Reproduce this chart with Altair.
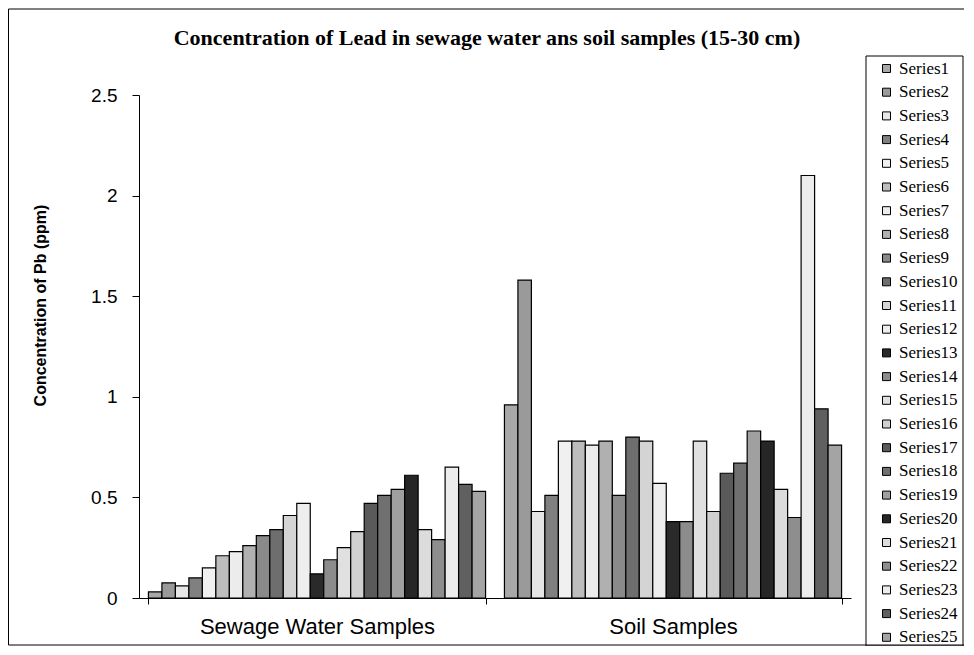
import altair as alt
import pandas as pd

groups = ["Sewage Water Samples", "Soil Samples"]
series = [f"Series{i}" for i in range(1, 26)]

sewage = [0.03, 0.075, 0.06, 0.10, 0.15, 0.21, 0.23, 0.26, 0.31, 0.34, 0.41, 0.47,
          0.12, 0.19, 0.25, 0.33, 0.47, 0.51, 0.54, 0.61, 0.34, 0.29, 0.65, 0.565, 0.53]
soil = [0.96, 1.58, 0.43, 0.51, 0.78, 0.78, 0.76, 0.78, 0.51, 0.80, 0.78, 0.57,
        0.38, 0.38, 0.78, 0.43, 0.62, 0.67, 0.83, 0.78, 0.54, 0.40, 2.10, 0.94, 0.76]

fills = ["#a8a8a8", "#9a9a9a", "#e6e6e6", "#808080", "#f0f0f0", "#bdbdbd", "#ececec",
         "#b0b0b0", "#8a8a8a", "#6e6e6e", "#d4d4d4", "#eeeeee", "#2a2a2a", "#8c8c8c",
         "#e0e0e0", "#d0d0d0", "#5a5a5a", "#707070", "#a0a0a0", "#262626", "#dcdcdc",
         "#8e8e8e", "#ececec", "#606060", "#a4a4a4"]

rows = []
for g, vals in zip(groups, [sewage, soil]):
    for s, v in zip(series, vals):
        rows.append({"group": g, "series": s, "value": v})
df = pd.DataFrame(rows)

W, H = 712, 503
PAD = {"left": 131, "top": 87, "right": 113, "bottom": 48}

bars = alt.Chart(df).mark_bar(stroke="black", strokeWidth=1.2).encode(
    x=alt.X("group:N", sort=groups,
            scale=alt.Scale(paddingInner=0.053, paddingOuter=0.0265),
            axis=alt.Axis(title=None, labelAngle=0, labelFont="Liberation Sans",
                          labelFontSize=22, labelColor="black", tickBand="extent",
                          tickSize=6, tickColor="black", domainColor="black",
                          labelPadding=12, labelLimit=500)),
    xOffset=alt.XOffset("series:N", sort=series),
    y=alt.Y("value:Q", scale=alt.Scale(domain=[0, 2.5]),
            axis=alt.Axis(title="Concentration of Pb (ppm)", values=[0, 0.5, 1, 1.5, 2, 2.5],
                          format=".1~f", grid=False, labelFont="Liberation Sans",
                          labelFontSize=19, labelColor="black", labelPadding=15,
                          tickSize=7, tickColor="black", domainColor="black",
                          titleFont="Liberation Sans", titleFontSize=16,
                          titleFontWeight="bold", titleColor="black",
                          titleX=-99, titleY=210, titleAngle=270,
                          titleBaseline="middle", titleAlign="center")),
    color=alt.Color("series:N", sort=series,
                    scale=alt.Scale(domain=series, range=fills),
                    legend=alt.Legend(title=None, orient="none", legendX=739, legendY=-35,
                                      symbolType="square", symbolSize=64,
                                      symbolStrokeColor="black", symbolStrokeWidth=1,
                                      labelFont="Liberation Serif", labelFontSize=17,
                                      labelColor="black", labelOffset=4,
                                      rowPadding=5.7, padding=0)),
)

one = pd.DataFrame({"k": [0]})
frame = alt.Chart(one).mark_rect(fillOpacity=0, stroke="black", strokeWidth=1).encode(
    x=alt.value(-130.5), x2=alt.value(900), y=alt.value(-86), y2=alt.value(550)
)
legend_box = alt.Chart(one).mark_rect(fillOpacity=0, stroke="black", strokeWidth=1).encode(
    x=alt.value(727), x2=alt.value(824), y=alt.value(-39), y2=alt.value(551)
)

chart = alt.layer(frame, legend_box, bars).properties(
    width=W, height=H,
    autosize=alt.AutoSizeParams(type="none"),
    padding=PAD,
    background="white",
    title=alt.TitleParams(
        text="Concentration of Lead in sewage water ans soil samples (15-30 cm)",
        font="Liberation Serif", fontSize=22, fontWeight="bold", color="black",
        anchor="middle", dx=-8, offset=-41),
).configure_view(strokeWidth=0)

chart.save("out.html", embed_options={"renderer": "svg", "actions": False})
